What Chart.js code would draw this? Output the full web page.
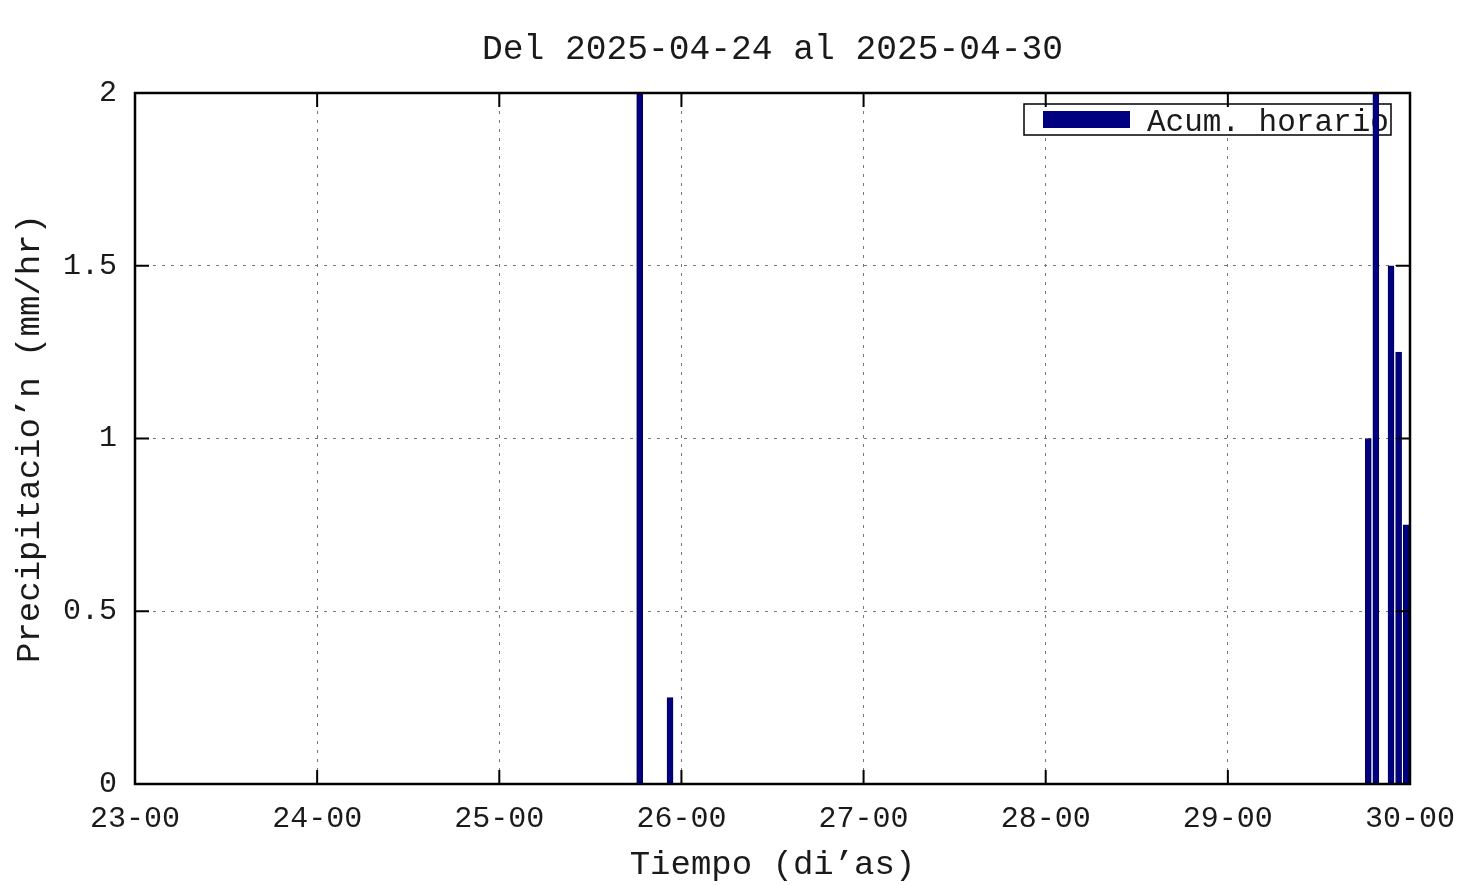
<!DOCTYPE html>
<html>
<head>
<meta charset="utf-8">
<script src="https://cdn.jsdelivr.net/npm/chart.js@4"></script>
<style>
  html, body { margin: 0; padding: 0; background: #fff; }
  #wrap { width: 1476px; height: 885px; }
</style>
</head>
<body>
<div id="wrap"><canvas id="grafica" width="1476" height="885"></canvas></div>
<script>
// datos: precipitacion horaria, tiempo = dia del mes + hora (centro del intervalo)
const diaInicio = 23;
const dias = [25, 25, 29, 29, 29, 29, 29];
const horas = [18.5, 22.5, 18.5, 19.5, 21.5, 22.5, 23.5];
const precip = [2, 0.25, 1, 2, 1.5, 1.25, 0.75];
const yTicks = [0, 0.5, 1, 1.5, 2];

const titulo = 'Del 2025-04-24 al 2025-04-30';
const serie = 'Acum. horario';
const fuente = 'Liberation Mono';
const azul = '#000080';
const tinta = '#1a1a1a';

// horas desde el dia 23 a las 00
let puntos = [];
for (let i = 0; i < precip.length; i++) {
    puntos.push({ x: (dias[i] - diaInicio) * 24 + horas[i], y: precip[i] });
}

// titulo centrado sobre el area del grafico, marco negro y marcas hacia dentro (estilo gnuplot)
const marco = {
    id: 'marco',
    beforeDatasetsDraw(chart) {
        const c = chart.ctx, a = chart.chartArea;
        c.save();
        c.fillStyle = tinta;
        c.font = '34.6px "' + fuente + '"';
        c.textAlign = 'center';
        c.textBaseline = 'middle';
        c.fillText(titulo, (a.left + a.right) / 2, 50);

        // leyenda con fondo blanco, las barras pasan por encima
        const x1 = a.right - 386, y1 = a.top + 11, w = 367, h = 31;
        c.fillStyle = '#fff';
        c.fillRect(x1, y1, w, h);
        c.strokeStyle = '#000';
        c.lineWidth = 1.5;
        c.strokeRect(x1, y1, w, h);
        c.fillStyle = azul;
        c.fillRect(x1 + 19, y1 + 7, 87, 17);
        c.fillStyle = tinta;
        c.font = '31px "' + fuente + '"';
        c.textAlign = 'left';
        c.fillText(serie, x1 + 123, y1 + h / 2 + 3);
        c.restore();
    },
    afterDraw(chart) {
        const c = chart.ctx, a = chart.chartArea;
        const sx = chart.scales.x, sy = chart.scales.y;
        const len = 14;
        c.save();
        c.strokeStyle = '#000';
        c.lineWidth = 2;
        c.beginPath();
        sy.ticks.forEach(t => {
            const y = sy.getPixelForValue(t.value);
            c.moveTo(a.left, y); c.lineTo(a.left + len, y);
            c.moveTo(a.right, y); c.lineTo(a.right - len, y);
        });
        sx.ticks.forEach(t => {
            const x = sx.getPixelForValue(t.value);
            c.moveTo(x, a.bottom); c.lineTo(x, a.bottom - len);
            c.moveTo(x, a.top); c.lineTo(x, a.top + len);
        });
        c.stroke();
        c.lineWidth = 2.5;
        c.strokeRect(a.left, a.top, a.right - a.left, a.bottom - a.top);
        c.restore();
    }
};

const ctx = document.getElementById('grafica');

let chart1 = new Chart(ctx, {
    type: 'bar',
    data: {
        datasets: [{
            label: serie,
            data: puntos,
            backgroundColor: azul,
            borderColor: '#00005a',
            borderWidth: 1,
            barThickness: 6
        }]
    },
    options: {
        responsive: false,
        animation: false,
        layout: { padding: { left: 0, right: 66, top: 93, bottom: 0 } },
        plugins: {
            legend: { display: false },
            tooltip: { enabled: false },
            title: { display: false }
        },
        scales: {
            x: {
                type: 'linear',
                min: 0,
                max: 168,
                offset: false,
                afterFit(scale) { scale.height = 101; },
                afterBuildTicks(scale) {
                    scale.ticks = [0, 24, 48, 72, 96, 120, 144, 168].map(v => ({ value: v }));
                },
                ticks: {
                    autoSkip: false,
                    maxRotation: 0,
                    padding: 17,
                    color: tinta,
                    font: { family: fuente, size: 30 },
                    callback: v => (diaInicio + v / 24) + '-00'
                },
                grid: { offset: false, color: '#777', lineWidth: 1, drawTicks: false },
                border: { display: false, dash: [3, 6] },
                title: {
                    display: true,
                    text: 'Tiempo (di’as)',
                    color: tinta,
                    font: { family: fuente, size: 34 },
                    padding: { top: 0, bottom: 0 }
                }
            },
            y: {
                min: 0,
                max: 2,
                afterFit(scale) { scale.width = 135; },
                afterBuildTicks(scale) {
                    scale.ticks = yTicks.map(v => ({ value: v }));
                },
                ticks: {
                    padding: 18,
                    color: tinta,
                    font: { family: fuente, size: 30 },
                    callback: v => String(v)
                },
                grid: { color: '#777', lineWidth: 1, drawTicks: false },
                border: { display: false, dash: [3, 6] },
                title: {
                    display: true,
                    text: 'Precipitacio’n (mm/hr)',
                    color: tinta,
                    font: { family: fuente, size: 34 },
                    padding: { top: 10, bottom: 0 }
                }
            }
        }
    },
    plugins: [marco]
});
</script>
</body>
</html>
